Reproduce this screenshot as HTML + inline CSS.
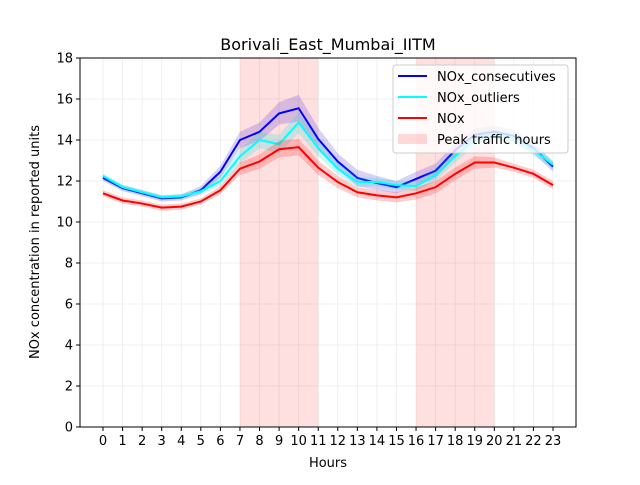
<!DOCTYPE html>
<html><head><meta charset="utf-8"><style>
body{margin:0;background:#fff;font-family:"Liberation Sans","DejaVu Sans",sans-serif}
svg text{font-family:"DejaVu Sans","Liberation Sans",sans-serif}
</style></head><body>
<svg id="c" width="640" height="480" xmlns="http://www.w3.org/2000/svg"></svg>
<script>
const hours=[0,1,2,3,4,5,6,7,8,9,10,11,12,13,14,15,16,17,18,19,20,21,22,23];
const consecutives=[12.15,11.65,11.4,11.15,11.2,11.55,12.45,14.0,14.4,15.3,15.55,14.05,12.95,12.15,11.9,11.7,12.1,12.5,13.5,14.25,14.4,14.2,13.6,12.7];
const consecErr=[0.15,0.15,0.15,0.15,0.15,0.2,0.3,0.4,0.45,0.55,0.65,0.55,0.4,0.4,0.35,0.3,0.35,0.35,0.35,0.3,0.3,0.3,0.25,0.25];
const outliers=[12.25,11.7,11.45,11.2,11.25,11.5,12.0,13.2,14.0,13.8,14.85,13.6,12.6,11.95,11.95,11.8,11.75,12.3,13.2,14.0,14.3,14.1,13.5,12.8];
const outlierErr=[0.12,0.12,0.12,0.12,0.12,0.15,0.25,0.35,0.4,0.45,0.5,0.4,0.3,0.25,0.2,0.2,0.25,0.3,0.3,0.3,0.25,0.25,0.25,0.2];
const nox=[11.4,11.05,10.9,10.7,10.75,11.0,11.55,12.6,12.95,13.55,13.65,12.65,11.95,11.45,11.3,11.2,11.4,11.7,12.35,12.9,12.9,12.65,12.35,11.8];
const noxErr=[0.15,0.15,0.15,0.15,0.15,0.15,0.2,0.3,0.35,0.4,0.4,0.35,0.3,0.25,0.25,0.25,0.3,0.3,0.3,0.3,0.25,0.2,0.2,0.2];
const peaks=[[7,11],[16,20]];
const yTicks=[0,2,4,6,8,10,12,14,16,18];
const L=80,R=576,T=58,B=427;
const x=h=>103+h*(553-103)/23;
const y=v=>B-(v/18)*(B-T);
const svg=document.getElementById('c');
const NS='http://www.w3.org/2000/svg';
function mk(t,a,p){const e=document.createElementNS(NS,t);for(const k in a)e.setAttribute(k,a[k]);(p||svg).appendChild(e);return e;}
hours.forEach(h=>{const g=mk('line',{x1:x(h),x2:x(h),y1:T,y2:B,stroke:'#ebebeb','stroke-width':0.8});

});
yTicks.forEach(v=>{const g=mk('line',{x1:L,x2:R,y1:y(v),y2:y(v),stroke:'#ebebeb','stroke-width':0.8});

});
peaks.forEach(p=>{const r=mk('rect',{x:x(p[0]),y:T,width:x(p[1])-x(p[0]),height:B-T,fill:'#ff0000','fill-opacity':0.12});

});
function series(vals,err,color,bandColor,name){
  let d='';vals.forEach((v,i)=>d+=(i?'L':'M')+x(hours[i])+','+y(v+err[i]));
  for(let i=vals.length-1;i>=0;i--)d+='L'+x(hours[i])+','+y(vals[i]-err[i]);
  const b=mk('path',{d:d+'Z',fill:bandColor,'fill-opacity':0.2});
  
  
  const l=mk('polyline',{points:vals.map((v,i)=>x(hours[i])+','+y(v)).join(' '),fill:'none',stroke:color,'stroke-width':2});
  
  
}
series(consecutives,consecErr,'#0000ff','#3a1fd0','nox-consecutives');
series(outliers,outlierErr,'#00ffff','#00d8d8','nox-outliers');
series(nox,noxErr,'#ff0000','#ff0000','nox');
const fr=mk('rect',{x:L,y:T,width:R-L,height:B-T,fill:'none',stroke:'#000','stroke-width':1});


hours.forEach(h=>{mk('line',{x1:x(h),x2:x(h),y1:B,y2:B+4,stroke:'#000'});
const t=mk('text',{x:x(h),y:B+18,'text-anchor':'middle','font-size':13});t.textContent=h;

});
yTicks.forEach(v=>{mk('line',{x1:L-4,x2:L,y1:y(v),y2:y(v),stroke:'#000'});
const t=mk('text',{x:L-7,y:y(v)+4.5,'text-anchor':'end','font-size':13});t.textContent=v;

});
let t=mk('text',{x:328,y:50,'text-anchor':'middle','font-size':16});t.textContent='Borivali_East_Mumbai_IITM';


t=mk('text',{x:328,y:467,'text-anchor':'middle','font-size':13});t.textContent='Hours';


t=mk('text',{x:0,y:0,'text-anchor':'middle','font-size':13,transform:'translate(39,242) rotate(-90)'});t.textContent='NOx concentration in reported units';


const lg=mk('g',{});


mk('rect',{x:393,y:65,width:175,height:88,rx:3,fill:'#fff','fill-opacity':0.8,stroke:'#ccc'},lg);
const items=[['NOx_consecutives','#0000ff'],['NOx_outliers','#00ffff'],['NOx','#ff0000'],['Peak traffic hours',null]];
items.forEach((it,i)=>{const yy=76+i*21;
 if(it[1])mk('line',{x1:398,x2:427,y1:yy,y2:yy,stroke:it[1],'stroke-width':2},lg);
 else mk('rect',{x:398,y:yy-5,width:29,height:10,fill:'#ff0000','fill-opacity':0.15},lg);
 const tx=mk('text',{x:437,y:yy+5,'font-size':13},lg);tx.textContent=it[0];
 
 });
</script>
</body></html>
